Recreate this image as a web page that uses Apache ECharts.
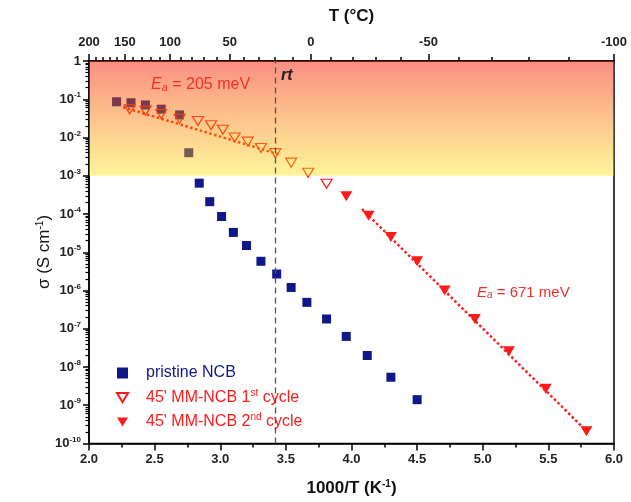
<!DOCTYPE html>
<html>
<head>
<meta charset="utf-8">
<script src="https://cdn.jsdelivr.net/npm/echarts@6/dist/echarts.min.js"></script>
<style>html,body{margin:0;padding:0;background:#fff}#c{width:631px;height:502px}</style>
</head>
<body>
<div id="c"></div>
<script>
// ---- data ----
const pristineX = [2.21, 2.32, 2.43, 2.55, 2.69, 2.76, 2.84, 2.92, 3.01, 3.10, 3.20, 3.31, 3.43, 3.54, 3.66, 3.81, 3.96, 4.12, 4.30, 4.50];
const pristineY = [8.6e-2, 8.1e-2, 7.1e-2, 5.5e-2, 3.9e-2, 4.0e-3, 6.4e-4, 2.1e-4, 8.6e-5, 3.3e-5, 1.5e-5, 5.8e-6, 2.7e-6, 1.2e-6, 4.9e-7, 1.8e-7, 6.3e-8, 2.0e-8, 5.4e-9, 1.4e-9];
const cycle1X = [2.31, 2.43, 2.55, 2.69, 2.83, 2.93, 3.02, 3.11, 3.21, 3.31, 3.42, 3.54, 3.67, 3.81];
const cycle1Y = [5.5e-2, 5.0e-2, 4.1e-2, 3.1e-2, 2.7e-2, 2.1e-2, 1.6e-2, 1.0e-2, 7.8e-3, 5.3e-3, 3.9e-3, 2.2e-3, 1.2e-3, 6.2e-4];
const cycle2X = [3.96, 4.13, 4.30, 4.50, 4.71, 4.94, 5.20, 5.48, 5.79];
const cycle2Y = [2.9e-4, 9.0e-5, 2.5e-5, 5.8e-6, 1.0e-6, 1.8e-7, 2.6e-8, 2.7e-9, 2.1e-10];
const fit205X = [2.26, 3.45];
const fit205Y = [6.2e-2, 3.6e-3];
const fit671X = [4.08, 5.78];
const fit671Y = [1.34e-4, 2.3e-10];
const rtX = [3.42];
const bandY = [1, 1e-3];
const topMajorT = [200, 150, 100, 50, 0, -50, -100];
const bottomTicks = [2.0, 2.5, 3.0, 3.5, 4.0, 4.5, 5.0, 5.5, 6.0];
const yDecadeExp = [0, -1, -2, -3, -4, -5, -6, -7, -8, -9, -10];
const seriesNames = ['pristine NCB', "45' MM-NCB 1st cycle", "45' MM-NCB 2nd cycle"];

// ---- derived helpers ----
const invT = t => 1000 / (t + 273.15);
const topMinorT = [];
for (let t = 200; t >= -100; t -= 10) if (topMajorT.indexOf(t) < 0) topMinorT.push(t);
const yMajor = yDecadeExp.map(e => Math.pow(10, e));
const yMinor = [];
for (let e = -10; e < 0; e++) for (let m = 2; m <= 9; m++) yMinor.push(m * Math.pow(10, e));
const zip = (a, b) => a.map((v, i) => [v, b[i]]);

const FONT = 'Liberation Sans, Arial, sans-serif';
const navy = '#0f178a';
const red = '#ff1a1a';
const downTri = 'path://M0,0 L12,0 L6,10 Z';

const chart = echarts.init(document.getElementById('c'), null, {renderer: 'canvas'});
const option = {
  animation: false,
  backgroundColor: '#fff',
  textStyle: {fontFamily: FONT},
  grid: {left: 89, right: 17, top: 61, bottom: 58, show: true, borderColor: '#000', borderWidth: 1.5, backgroundColor: 'transparent'},
  xAxis: [
    {
      type: 'value', position: 'bottom', min: bottomTicks[0], max: bottomTicks[bottomTicks.length - 1], interval: 0.5,
      axisLine: {lineStyle: {color: '#000', width: 1.5}},
      axisTick: {length: 7, lineStyle: {color: '#000', width: 1.5}},
      minorTick: {show: true, splitNumber: 2, length: 4, lineStyle: {color: '#000', width: 1.5}},
      splitLine: {show: false},
      axisLabel: {margin: 9, fontSize: 13, fontWeight: 'bold', color: '#222', fontFamily: FONT, formatter: v => v.toFixed(1)},
      name: '1000/T (K{sup|-1})', nameLocation: 'middle', nameGap: 36,
      nameTextStyle: {fontSize: 17, fontWeight: 'bold', color: '#111', fontFamily: FONT,
        rich: {sup: {fontSize: 10, fontWeight: 'bold', color: '#111', padding: [0, 0, 8, 0], verticalAlign: 'bottom'}}}
    },
    {
      type: 'value', position: 'top', min: invT(200), max: invT(-100),
      axisLine: {show: true, lineStyle: {color: '#000', width: 1.5}},
      axisTick: {show: true, length: 7, customValues: topMajorT.map(invT), lineStyle: {color: '#000', width: 1.5}},
      axisLabel: {show: true, margin: 12, fontSize: 13, fontWeight: 'bold', color: '#222', fontFamily: FONT,
        customValues: topMajorT.map(invT), formatter: v => String(Math.round(1000 / v - 273.15))},
      splitLine: {show: false},
      name: 'T (°C)', nameLocation: 'middle', nameGap: 36,
      nameTextStyle: {fontSize: 17, fontWeight: 'bold', color: '#111', fontFamily: FONT}
    },
    {
      type: 'value', position: 'top', min: invT(200), max: invT(-100),
      axisLine: {show: false},
      axisTick: {show: true, length: 4, customValues: topMinorT.map(invT), lineStyle: {color: '#000', width: 1.5}},
      axisLabel: {show: false},
      splitLine: {show: false}
    }
  ],
  yAxis: [
    {
      type: 'log', logBase: 10, min: yMajor[yMajor.length - 1], max: yMajor[0], position: 'left',
      axisLine: {lineStyle: {color: '#000', width: 1.5}},
      axisTick: {length: 6, customValues: yMajor, lineStyle: {color: '#000', width: 1.5}},
      splitLine: {show: false},
      axisLabel: {margin: 8, fontSize: 13, fontWeight: 'bold', color: '#222', fontFamily: FONT, customValues: yMajor,
        formatter: v => { const e = Math.round(Math.log10(v)); return e === 0 ? '1' : '10{sup|' + e + '}'; },
        rich: {sup: {fontSize: 8, fontWeight: 'bold', color: '#222', padding: [0, 0, 8, 0], verticalAlign: 'bottom'}}}
    },
    {
      type: 'log', logBase: 10, min: yMajor[yMajor.length - 1], max: yMajor[0], position: 'left',
      axisLine: {show: false},
      axisTick: {show: true, length: 3.5, customValues: yMinor, lineStyle: {color: '#000', width: 1.2}},
      axisLabel: {show: false},
      splitLine: {show: false}
    }
  ],
  legend: {
    orient: 'vertical', left: 116, top: 365, padding: 0, itemGap: 7, itemWidth: 11, itemHeight: 11,
    textStyle: {fontSize: 16, fontFamily: FONT, padding: [0, 0, 0, 13]},
    formatter: n => n.replace(/1st/, '1{sup|st}').replace(/2nd/, '2{sup|nd}'),
    data: [
      {name: seriesNames[0], icon: 'rect', textStyle: {color: navy}},
      {name: seriesNames[1], icon: downTri, textStyle: {color: red, rich: {sup: {fontSize: 10, color: red, padding: [0, 0, 9, 0], verticalAlign: 'bottom'}}}},
      {name: seriesNames[2], icon: downTri, textStyle: {color: red, rich: {sup: {fontSize: 10, color: red, padding: [0, 0, 9, 0], verticalAlign: 'bottom'}}}}
    ]
  },
  series: [
    {
      name: 'fit205', type: 'line', data: zip(fit205X, fit205Y), showSymbol: false, z: 2,
      lineStyle: {type: 'dotted', width: 2.5, color: red}, silent: true
    },
    {
      name: 'fit671', type: 'line', data: zip(fit671X, fit671Y), showSymbol: false, z: 2,
      lineStyle: {type: 'dotted', width: 2.5, color: red}, silent: true
    },
    {
      name: seriesNames[0], type: 'scatter', symbol: 'rect', symbolSize: 9, z: 3,
      itemStyle: {color: navy, opacity: 1}, data: zip(pristineX, pristineY)
    },
    {
      name: seriesNames[1], type: 'scatter', symbol: 'triangle', symbolRotate: 180, symbolSize: [11, 9], z: 3,
      itemStyle: {color: 'rgba(255,255,255,0)', borderColor: red, borderWidth: 1.2, opacity: 1}, data: zip(cycle1X, cycle1Y)
    },
    {
      name: seriesNames[2], type: 'scatter', symbol: 'triangle', symbolRotate: 180, symbolSize: [12, 10], z: 3,
      itemStyle: {color: red, opacity: 1}, data: zip(cycle2X, cycle2Y)
    },
    {
      name: 'overlay', type: 'line', data: [], z: 10,
      markArea: {
        z: 10, silent: true,
        itemStyle: {
          color: {type: 'linear', x: 0, y: 0, x2: 0, y2: 1, colorStops: [
            {offset: 0, color: 'rgba(245,30,10,0.5)'},
            {offset: 0.5, color: 'rgba(250,122,0,0.45)'},
            {offset: 1, color: 'rgba(255,228,0,0.4)'}
          ]}
        },
        data: [[{yAxis: bandY[0]}, {yAxis: bandY[1]}]]
      },
      markLine: {
        z: 11, silent: true, symbol: 'none', label: {show: false},
        lineStyle: {type: [6, 4], color: '#555', width: 1.3},
        data: [{xAxis: rtX[0]}]
      }
    }
  ],
  graphic: [
    {type: 'text', x: 44, y: 252, rotation: Math.PI / 2, z: 100, style: {
      text: 'σ (S cm{sup|-1})', fill: '#111', align: 'center', verticalAlign: 'middle',
      font: '17px ' + FONT,
      rich: {sup: {fontSize: 10, fill: '#111', fontFamily: FONT, padding: [0, 0, 8, 0], verticalAlign: 'bottom'}}}},
    {type: 'text', left: 151, top: 77, z: 100, style: {
      text: '{i|E}{s|a}{n| = 205 meV}', fill: '#f0302a',
      rich: {i: {fontSize: 16, fontStyle: 'italic', fill: '#f0302a', fontFamily: FONT},
             s: {fontSize: 11, fontStyle: 'italic', fill: '#f0302a', fontFamily: FONT, padding: [6, 0, 0, 0]},
             n: {fontSize: 16, fill: '#f0302a', fontFamily: FONT}}}},
    {type: 'text', left: 477, top: 285, z: 100, style: {
      text: '{i|E}{s|a}{n| = 671 meV}', fill: '#f0302a',
      rich: {i: {fontSize: 15, fontStyle: 'italic', fill: '#f0302a', fontFamily: FONT},
             s: {fontSize: 10, fontStyle: 'italic', fill: '#f0302a', fontFamily: FONT, padding: [6, 0, 0, 0]},
             n: {fontSize: 15, fill: '#f0302a', fontFamily: FONT}}}},
    {type: 'text', left: 281, top: 68, z: 100, style: {
      text: 'rt', fill: '#222', font: 'italic bold 16px ' + FONT}}
  ]
};
chart.setOption(option);
</script>
</body>
</html>
